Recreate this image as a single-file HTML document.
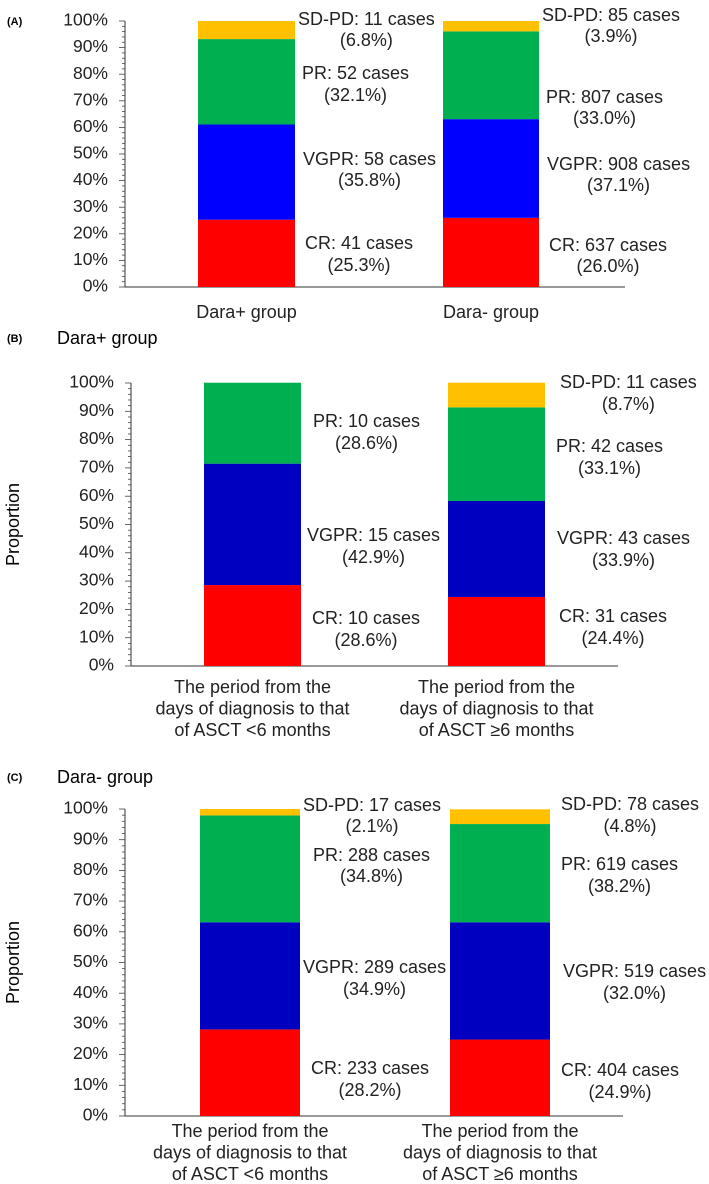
<!DOCTYPE html>
<html><head><meta charset="utf-8"><style>
html,body{margin:0;padding:0;background:#fff}
svg{display:block;font-family:"Liberation Sans",Arial,sans-serif}
</style></head><body>
<svg id="c" width="709" height="1184" viewBox="0 0 709 1184"></svg>
<script>
const segNames = ["CR","VGPR","PR","SD-PD"];
const aPct1 = [25.3,35.8,32.1,6.8];
const aPct2 = [26.0,37.1,33.0,3.9];
const aCases1 = [41,58,52,11];
const aCases2 = [637,908,807,85];
const bPct1 = [28.6,42.9,28.6,0];
const bPct2 = [24.4,33.9,33.1,8.7];
const bCases1 = [10,15,10,0];
const bCases2 = [31,43,42,11];
const cPct1 = [28.2,34.9,34.8,2.1];
const cPct2 = [24.9,38.2,32.0,4.8];
const cPrinted2 = [24.9,32.0,38.2,4.8];
const cCases1 = [233,289,288,17];
const cCases2 = [404,519,619,78];
const tickVals = [0,10,20,30,40,50,60,70,80,90,100];
const catsA = [["Dara+ group"],["Dara- group"]];
const catsBC = [["The period from the","days of diagnosis to that","of ASCT <6 months"],["The period from the","days of diagnosis to that","of ASCT \u22656 months"]];

const NS="http://www.w3.org/2000/svg";
const svg=document.getElementById('c');
function mk(tag,attrs,parent){const e=document.createElementNS(NS,tag);for(const k in attrs)e.setAttribute(k,attrs[k]);(parent||svg).appendChild(e);return e;}

const panels=[
 {id:"a",label:"(A)",title:"",ax:125,y100:21,y0:287,axEnd:625,blue:"#0000FF",prop:false,
  bars:[{x:198,w:97,offs:[10,8,7,3],pct:aPct1,printed:aPct1,cases:aCases1,ly:[[244,266],[160,181],[74,96],[20,41]]},
        {x:443,w:96,offs:[10,8,7,3],pct:aPct2,printed:aPct2,cases:aCases2,ly:[[246,267],[165,186],[98,119],[16,37]]}],
  cats:catsA,catY:313},
 {id:"b",label:"(B)",title:"Dara+ group",titleY:339,ax:131,y100:383,y0:666,axEnd:618,blue:"#0000C0",prop:true,
  bars:[{x:204,w:97,offs:[11,6,12,0],pct:bPct1,printed:bPct1,cases:bCases1,ly:[[619,641],[536,558],[422,444],null]},
        {x:448,w:97,offs:[14,12,11,15],pct:bPct2,printed:bPct2,cases:bCases2,ly:[[617,639],[539,561],[447,469],[383,405]]}],
  cats:catsBC,catY:688},
 {id:"c",label:"(C)",title:"Dara- group",titleY:778,ax:125,y100:809,y0:1116,axEnd:623,blue:"#0000C0",prop:true,
  bars:[{x:200,w:100,offs:[11,3,13,3],pct:cPct1,printed:cPct1,cases:cCases1,ly:[[1069,1091],[968,990],[856,877],[806,827]]},
        {x:450,w:100,offs:[11,13,11,11],pct:cPct2,printed:cPrinted2,cases:cCases2,ly:[[1071,1093],[972,994],[865,887],[805,827]]}],
  cats:catsBC,catY:1132}
];
panels.forEach(p=>{
  const g=mk('g',{});
  
  
  const yS=v=>p.y0-(p.y0-p.y100)*v/100;
  const colors=["#FF0000",p.blue,"#00B050","#FFC000"];
  const lab=mk('text',{x:7,y:(p.id==="a"?22:(p.titleY)),"font-size":11,"font-weight":"bold","dominant-baseline":"middle"},g);
  lab.textContent=p.label;
  
  
  if(p.title){const t=mk('text',{x:57,y:p.titleY,"font-size":18,"dominant-baseline":"middle"},g);t.textContent=p.title;
    
    }
  if(p.prop){const cy=(p.y0+p.y100)/2;const t=mk('text',{x:0,y:0,"font-size":18,"text-anchor":"middle",transform:`translate(19,${cy}) rotate(-90)`},g);t.textContent="Proportion";
    
    }
  const ax=p.ax;
  mk('line',{x1:ax,x2:ax,y1:yS(100),y2:p.y0,stroke:"#333","stroke-width":1},g);
  mk('line',{x1:ax,x2:p.axEnd,y1:p.y0,y2:p.y0,stroke:"#333","stroke-width":1},g);
  for(let v=0;v<=100;v+=2){const y=yS(v);const major=v%10===0;mk('line',{x1:major?ax-6:ax-3,x2:ax,y1:y,y2:y,stroke:"#444","stroke-width":0.8},g);}
  tickVals.forEach(v=>{const t=mk('text',{x:ax-17,y:yS(v),"font-size":17.5,"text-anchor":"end","dominant-baseline":"middle",fill:"#222"},g);t.textContent=v+"%";
    
    });
  p.bars.forEach((b,bi)=>{
    let cum=0;
    b.pct.forEach((v,si)=>{
      if(v>0){const r=mk('rect',{x:b.x,y:yS(cum+v),width:b.w,height:yS(cum)-yS(cum+v),fill:colors[si]},g);
        
        }
      cum+=v;
      const ly=b.ly[si];
      if(ly&&v>0){
        const lx=b.x+b.w+b.offs[si];
        const t1=mk('text',{x:lx,y:ly[0],"font-size":18,"dominant-baseline":"middle",fill:"#222"},g);
        t1.textContent=segNames[si]+": "+b.cases[si]+" cases";
        
        
        const w=t1.getComputedTextLength();
        const t2=mk('text',{x:lx+w/2,y:ly[1],"font-size":18,"text-anchor":"middle","dominant-baseline":"middle",fill:"#222"},g);
        t2.textContent="("+b.printed[si].toFixed(1)+"%)";
        
        
      }
    });
    p.cats[bi].forEach((line,li)=>{
      const t=mk('text',{x:b.x+b.w/2,y:p.catY+li*21.5,"font-size":18,"text-anchor":"middle","dominant-baseline":"middle",fill:"#222"},g);
      t.textContent=line;
      
      
    });
  });
});
</script>
</body></html>
